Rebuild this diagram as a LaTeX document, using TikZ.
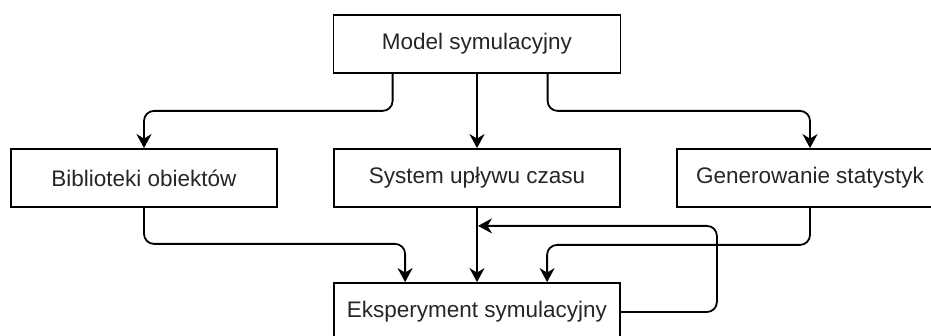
\documentclass[tikz,border=0pt]{standalone}
\usepackage{fontspec}
\setmainfont{Liberation Sans}
\usetikzlibrary{arrows.meta,calc}
\begin{document}
\begin{tikzpicture}[x=1pt,y=-1pt,
  box/.style={draw, line width=1.8pt, inner sep=0pt, minimum height=58pt,
    font=\fontsize{22.5}{27}\selectfont, text=black!85},
  arr/.style={line width=1.8pt, rounded corners=10pt,
    -{Stealth[length=14pt,width=15pt,inset=4.5pt]}}]
\useasboundingbox (0,0) rectangle (931,336);
\clip (0,0) rectangle (931,336);
\fill[white] (0,0) rectangle (931,336);
\node[box, minimum width=287pt] (M) at (477,44) {Model symulacyjny};
\node[box, minimum width=266pt] (B) at (144,178) {Biblioteki obiektów};
\node[box, minimum width=286pt] (S) at (477,178) {System upływu czasu};
\node[box, minimum width=266pt] (G) at (810,178) {Generowanie statystyk};
\node[box, minimum width=286pt] (E) at (477,312) {Eksperyment symulacyjny};
\draw[arr] ($(M.south west)+(60,0)$) -- ++(0,37) -| (B.north);
\draw[arr] (M.south) -- (S.north);
\draw[arr] ($(M.south west)+(215,0)$) -- ++(0,37) -| (G.north);
\draw[arr] (B.south) -- ++(0,36) -| ($(E.north west)+(72,0)$);
\draw[arr] (S.south) -- (E.north);
\draw[arr] (G.south) -- ++(0,37) -| ($(E.north west)+(214,0)$);
\draw[arr] (E.east) -- ++(96,0) |- ($(S.south)+(1,18)$);
\end{tikzpicture}
\end{document}
